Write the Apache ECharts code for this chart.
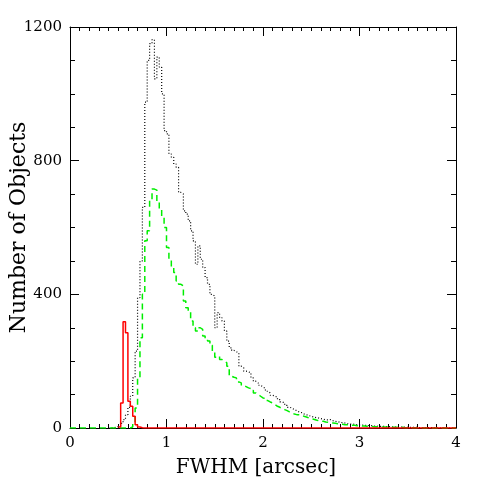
<!DOCTYPE html>
<html>
<head>
<meta charset="utf-8">
<script src="https://cdn.jsdelivr.net/npm/echarts@6/dist/echarts.min.js"></script>
<style>
  html, body { margin: 0; padding: 0; background: #fff; }
  #chart { width: 480px; height: 480px; }
</style>
</head>
<body>
<div id="chart"></div>
<script>
// histogram bins: width 0.025 arcsec
const binWidth = 0.025;

// black dotted (all objects), bins starting at 0.4
const allStart = 0.4;
const allCounts = [
  0, 1, 2, 4, 8, 14, 25, 40, 62, 95, 150, 230, 390, 500, 660, 975,
  1100, 1150, 1162, 1045, 1110, 1080, 1000, 890, 880, 820, 810, 790, 780, 705, 700, 650,
  640, 620, 590, 560, 490, 545, 505, 480, 450, 430, 400, 395, 300, 345, 330, 320,
  290, 260, 240, 232, 228, 225, 185, 180, 170, 168, 165, 150, 140, 135, 128, 123,
  118, 110, 105, 98, 95, 92, 85, 78, 75, 68, 62, 60, 55, 52, 48, 46,
  42, 40, 37, 35, 33, 31, 30, 28, 26, 25, 24, 25, 22, 20, 19, 17,
  16, 15, 13, 12, 12, 11, 10, 9, 9, 8, 8, 7, 7, 6, 6, 5,
  5, 5, 4, 4, 4, 3, 3, 3, 3, 3, 2, 2, 2, 2, 2, 2,
  1, 1, 1, 1, 1, 1, 1, 0, 0, 0, 0, 0, 0, 0
];

// green dashed, bins starting at 0
const midStart = 0.0;
const midCounts = [
  0, 0, 0, 0, 0, 0, 0, 0, 0, 0, 0, 0, 0, 0, 0, 0,
  0, 0, 0, 0, 0, 0, 0, 0,
  0, 3, 15, 60, 150, 270, 400, 560, 590, 680, 715, 712, 675, 655, 630, 600,
  540, 505, 480, 465, 440, 430, 425, 380, 360, 350, 320, 300, 290, 300, 295, 275,
  268, 260, 248, 230, 212, 215, 205, 200, 195, 185, 155, 152, 150, 138, 135, 128,
  124, 120, 118, 112, 105, 100, 95, 90, 88, 82, 78, 75, 70, 65, 62, 58,
  55, 52, 48, 45, 42, 40, 40, 38, 35, 33, 30, 28, 26, 24, 22, 21,
  20, 18, 17, 16, 15, 14, 13, 12, 11, 10, 10, 9, 8, 8, 7, 7,
  6, 6, 5, 5, 5, 4, 4, 4, 3, 3, 3, 3, 2, 2, 2, 2,
  2, 2, 1, 1, 1, 1, 1, 1, 1, 1, 0, 0, 0, 0, 0, 0
];

// red solid, bins starting at 0.5
const smallStart = 0.5;
const smallCounts = [3, 75, 318, 285, 80, 65, 35, 10, 3, 1, 0];

const xTicks = [0, 1, 2, 3, 4];
const yTicks = [0, 400, 800, 1200];

function toSteps(start, counts, xEnd){
  const pts = counts.map((v, i) => [+(start + i * binWidth).toFixed(4), v]);
  const last = counts[counts.length - 1];
  pts.push([+(start + counts.length * binWidth).toFixed(4), last]);
  if (xEnd != null) pts.push([xEnd, last]);
  return pts;
}

const chart = echarts.init(document.getElementById('chart'));
const font = '"DejaVu Serif", "Liberation Serif", serif';

const tickAxisX = (show) => ({
  type: 'value', min: xTicks[0], max: xTicks[xTicks.length - 1], interval: 1,
  axisLine: { show: true, onZero: false, lineStyle: { color: '#000', width: 1 } },
  axisTick: { show: true, inside: true, length: 9, lineStyle: { color: '#000' } },
  minorTick: { show: true, splitNumber: 10, length: 4, lineStyle: { color: '#000' } },
  axisLabel: { show: show, color: '#000', fontFamily: font, fontSize: 15, margin: 8,
    formatter: (v) => String(v) },
  splitLine: { show: false }
});
const tickAxisY = (show) => ({
  type: 'value', min: yTicks[0], max: yTicks[yTicks.length - 1], interval: 400,
  axisLine: { show: true, onZero: false, lineStyle: { color: '#000', width: 1 } },
  axisTick: { show: true, inside: true, length: 9, lineStyle: { color: '#000' } },
  minorTick: { show: true, splitNumber: 4, length: 5, lineStyle: { color: '#000' } },
  axisLabel: { show: show, color: '#000', fontFamily: font, fontSize: 15, margin: 8,
    formatter: (v) => String(v) },
  splitLine: { show: false }
});

const xBottom = Object.assign(tickAxisX(true), {
  position: 'bottom',
  name: 'FWHM [arcsec]', nameLocation: 'middle', nameGap: 30, nameMoveOverlap: false,
  nameTextStyle: { color: '#000', fontFamily: font, fontSize: 20, padding: [0, 14, 0, 0] }
});
const xTop = Object.assign(tickAxisX(false), { position: 'top' });
const yLeft = Object.assign(tickAxisY(true), {
  position: 'left',
  name: 'Number of Objects', nameLocation: 'middle', nameGap: 40, nameMoveOverlap: false,
  nameTextStyle: { color: '#000', fontFamily: font, fontSize: 22 }
});
const yRight = Object.assign(tickAxisY(false), { position: 'right' });

chart.setOption({
  backgroundColor: '#fff',
  animation: false,
  grid: { left: 70, right: 24, top: 27, bottom: 52, containLabel: false, outerBoundsMode: 'none' },
  xAxis: [xBottom, xTop],
  yAxis: [yLeft, yRight],
  series: [
    {
      name: 'all', type: 'line', step: 'end', showSymbol: false, clip: true,
      lineStyle: { color: '#000', width: 1.2, type: [1, 2] },
      data: toSteps(allStart, allCounts, 4)
    },
    {
      name: 'mid', type: 'line', step: 'end', showSymbol: false, clip: true,
      lineStyle: { color: '#00ee00', width: 1.5, type: [6, 4] },
      data: toSteps(midStart, midCounts, 4)
    },
    {
      name: 'small', type: 'line', step: 'end', showSymbol: false, clip: true,
      lineStyle: { color: '#ff0000', width: 1.5 },
      data: toSteps(smallStart, smallCounts, 4)
    }
  ]
});
</script>
</body>
</html>
